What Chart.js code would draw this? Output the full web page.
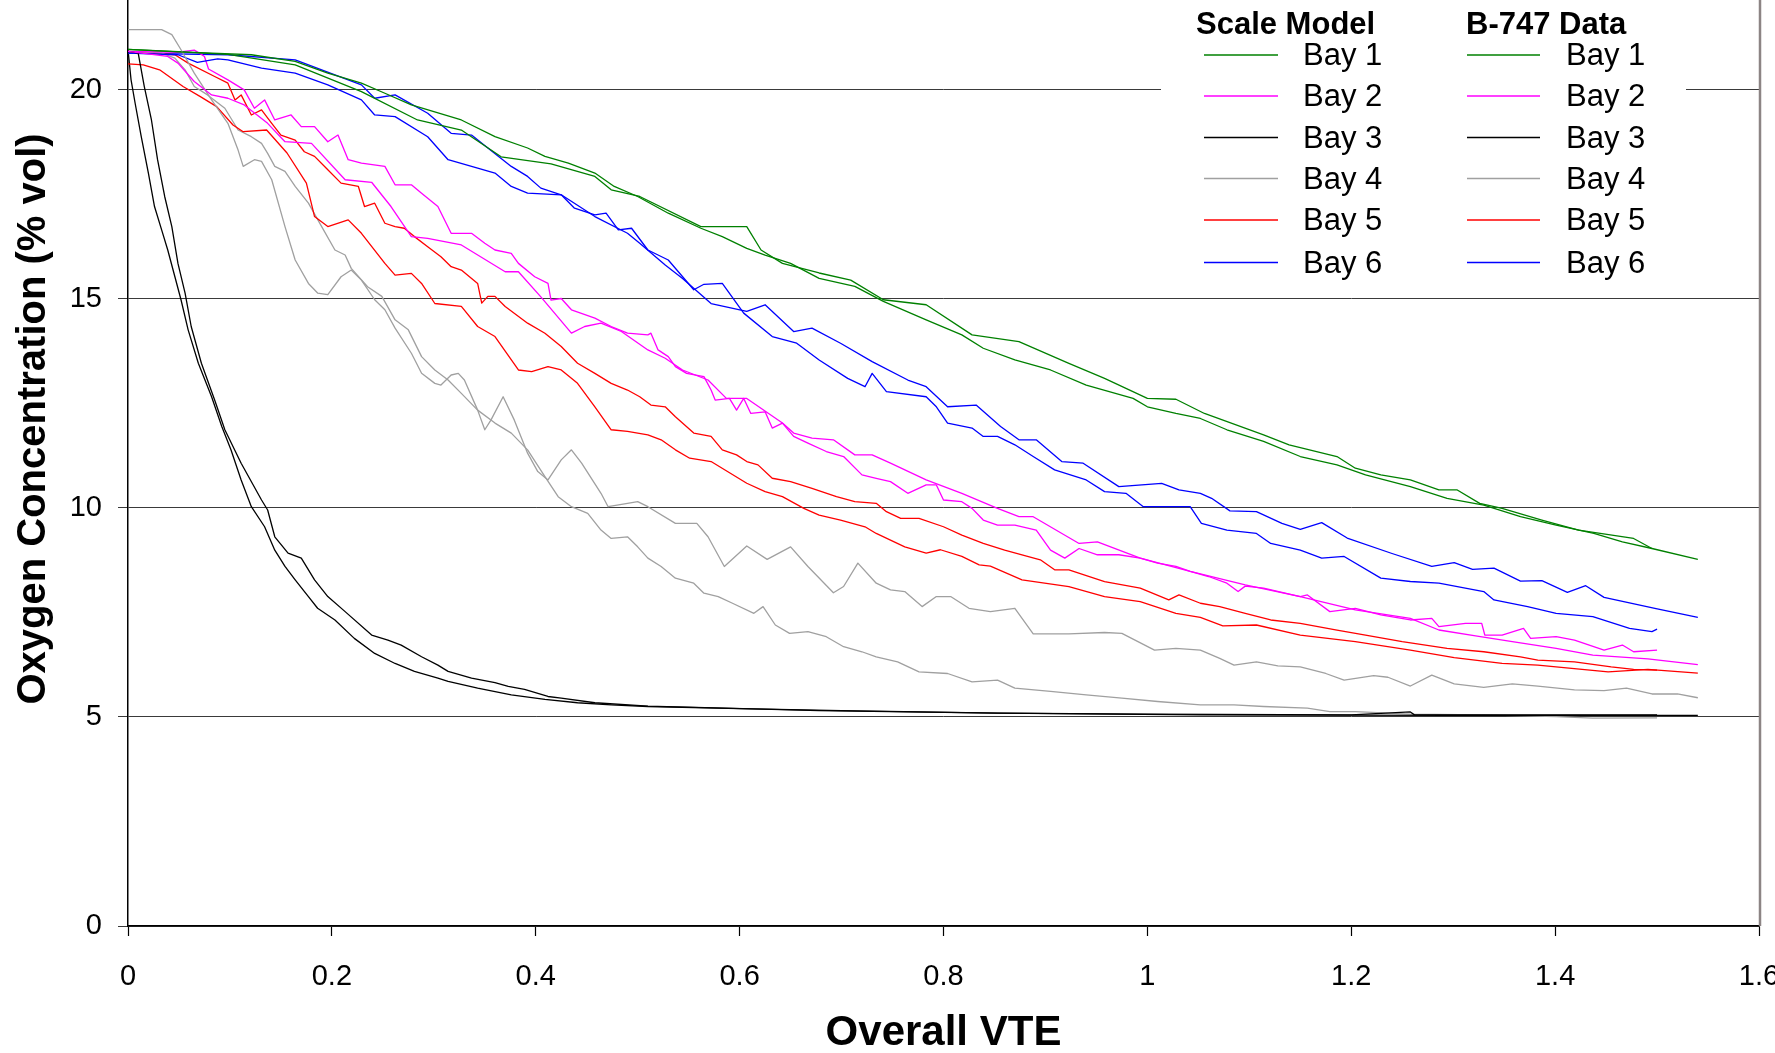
<!DOCTYPE html>
<html><head><meta charset="utf-8">
<script src="https://cdn.jsdelivr.net/npm/chart.js@4.4.1/dist/chart.umd.min.js"></script>
<style>
html,body{margin:0;padding:0;background:#fff;overflow:hidden;}
#wrap{position:relative;width:1775px;height:1053px;}
</style></head>
<body><div id="wrap"><canvas id="c" width="1775" height="1053"></canvas></div>
<script>
// ---------- tick labels ----------
const xTickValues = [0, 0.2, 0.4, 0.6, 0.8, 1.0, 1.2, 1.4, 1.6];
const xTickLabels = ["0", "0.2", "0.4", "0.6", "0.8", "1", "1.2", "1.4", "1.6"];
const yTickValues = [0, 5, 10, 15, 20];
const yTickLabels = ["0", "5", "10", "15", "20"];
const bayNames = ["Bay 1", "Bay 2", "Bay 3", "Bay 4", "Bay 5", "Bay 6"];
const groupNames = ["Scale Model", "B-747 Data"];
const xTitle = "Overall VTE";
const yTitle = "Oxygen Concentration (% vol)";

// ---------- series: [Overall VTE, O2 %vol] ----------
const modelBay1 = [[0,20.97],[0.082,20.88],[0.121,20.84],[0.164,20.68],[0.196,20.40],[0.229,20.16],[0.252,19.92],[0.278,19.64],[0.327,19.28],[0.360,18.88],[0.392,18.61],[0.409,18.41],[0.432,18.25],[0.458,18.01],[0.477,17.69],[0.500,17.45],[0.530,17.05],[0.562,16.69],[0.583,16.49],[0.607,16.21],[0.625,16.05],[0.650,15.85],[0.678,15.49],[0.713,15.30],[0.741,14.94],[0.783,14.50],[0.818,14.14],[0.839,13.82],[0.870,13.54],[0.905,13.30],[0.940,12.94],[0.986,12.62],[1.0,12.42],[1.028,12.26],[1.052,12.14],[1.078,11.87],[1.114,11.59],[1.150,11.23],[1.186,11.03],[1.214,10.79],[1.258,10.51],[1.294,10.23],[1.330,10.07],[1.366,9.79],[1.401,9.59],[1.438,9.39],[1.466,9.19],[1.495,9.03]];
const b747Bay1 = [[0,20.97],[0.098,20.85],[0.164,20.6],[0.229,19.96],[0.284,19.28],[0.327,19.04],[0.366,18.40],[0.415,18.23],[0.458,17.93],[0.474,17.61],[0.502,17.45],[0.562,16.73],[0.607,16.73],[0.621,16.17],[0.642,15.85],[0.678,15.62],[0.709,15.45],[0.741,14.98],[0.783,14.86],[0.828,14.14],[0.874,13.98],[0.923,13.46],[0.958,13.10],[1.0,12.62],[1.028,12.60],[1.056,12.26],[1.114,11.75],[1.139,11.51],[1.186,11.23],[1.204,10.95],[1.229,10.79],[1.258,10.67],[1.286,10.43],[1.304,10.43],[1.326,10.11],[1.348,9.99],[1.387,9.71],[1.423,9.47],[1.477,9.27],[1.495,9.03],[1.54,8.77]];

const modelBay2 = [[0,20.92],[0.049,20.9],[0.065,20.95],[0.072,20.85],[0.075,20.8],[0.079,20.5],[0.098,20.24],[0.114,20.0],[0.124,19.56],[0.134,19.76],[0.144,19.28],[0.160,19.4],[0.170,19.12],[0.183,19.12],[0.196,18.76],[0.206,18.92],[0.216,18.33],[0.229,18.25],[0.252,18.17],[0.262,17.73],[0.278,17.73],[0.288,17.53],[0.304,17.21],[0.317,16.57],[0.337,16.57],[0.350,16.33],[0.360,16.17],[0.376,16.09],[0.383,15.85],[0.399,15.53],[0.412,15.37],[0.415,14.97],[0.425,15.01],[0.435,14.74],[0.458,14.54],[0.474,14.34],[0.490,14.18],[0.510,14.14],[0.513,14.18],[0.520,13.78],[0.530,13.62],[0.537,13.38],[0.548,13.22],[0.565,13.14],[0.572,12.82],[0.576,12.58],[0.590,12.62],[0.597,12.34],[0.604,12.62],[0.611,12.26],[0.625,12.3],[0.632,11.91],[0.642,12.03],[0.653,11.71],[0.667,11.55],[0.685,11.35],[0.702,11.23],[0.720,10.79],[0.734,10.71],[0.748,10.63],[0.765,10.35],[0.783,10.55],[0.793,10.55],[0.800,10.19],[0.818,10.15],[0.828,9.99],[0.839,9.71],[0.853,9.59],[0.870,9.59],[0.891,9.47],[0.905,8.99],[0.919,8.8],[0.933,9.03],[0.951,8.88],[0.972,8.88],[0.993,8.8],[1.01,8.68],[1.028,8.6],[1.042,8.48],[1.060,8.36],[1.078,8.2],[1.089,8.0],[1.096,8.13],[1.114,8.08],[1.150,7.88],[1.157,7.92],[1.179,7.52],[1.204,7.6],[1.229,7.44],[1.258,7.32],[1.279,7.36],[1.286,7.16],[1.312,7.24],[1.328,7.24],[1.331,6.96],[1.348,6.96],[1.369,7.12],[1.376,6.88],[1.401,6.92],[1.419,6.84],[1.448,6.6],[1.466,6.72],[1.477,6.56],[1.5,6.6]];
const b747Bay2 = [[0,20.92],[0.039,20.8],[0.049,20.64],[0.065,20.2],[0.082,19.88],[0.098,19.8],[0.114,19.64],[0.137,19.2],[0.154,18.76],[0.180,18.72],[0.213,17.85],[0.239,17.79],[0.258,17.21],[0.278,16.49],[0.294,16.45],[0.327,16.29],[0.370,15.65],[0.383,15.65],[0.405,15.05],[0.435,14.18],[0.448,14.34],[0.464,14.42],[0.484,14.22],[0.510,13.78],[0.527,13.58],[0.544,13.3],[0.569,13.06],[0.587,12.62],[0.607,12.62],[0.642,12.03],[0.653,11.79],[0.671,11.67],[0.692,11.63],[0.713,11.27],[0.730,11.27],[0.748,11.07],[0.783,10.67],[0.818,10.35],[0.853,9.99],[0.874,9.79],[0.888,9.79],[0.933,9.15],[0.951,9.19],[0.993,8.8],[1.042,8.48],[1.096,8.16],[1.150,7.88],[1.204,7.56],[1.258,7.36],[1.286,7.08],[1.322,6.94],[1.358,6.8],[1.401,6.64],[1.437,6.48],[1.491,6.39],[1.54,6.25]];

const modelBay3 = [[0,20.96],[0.003,20.24],[0.007,19.68],[0.013,18.88],[0.020,18.01],[0.026,17.21],[0.033,16.65],[0.039,16.17],[0.046,15.53],[0.052,14.98],[0.059,14.26],[0.069,13.46],[0.082,12.66],[0.092,11.95],[0.101,11.39],[0.111,10.67],[0.121,10.03],[0.134,9.55],[0.144,8.99],[0.154,8.6],[0.164,8.28],[0.177,7.88],[0.186,7.6],[0.203,7.32],[0.222,6.88],[0.242,6.52],[0.262,6.28],[0.281,6.09],[0.304,5.93],[0.314,5.85],[0.343,5.69],[0.376,5.53],[0.409,5.42],[0.441,5.34],[0.474,5.29],[0.510,5.25],[0.6,5.2],[0.7,5.15],[0.853,5.09],[1.0,5.07],[1.2,5.05],[1.258,5.12],[1.262,5.05],[1.5,5.05]];
const b747Bay3 = [[0,20.92],[0.010,20.88],[0.016,20.08],[0.023,19.28],[0.029,18.33],[0.036,17.45],[0.043,16.73],[0.049,15.85],[0.056,15.14],[0.062,14.34],[0.072,13.46],[0.085,12.58],[0.095,11.87],[0.111,11.07],[0.131,10.19],[0.137,9.95],[0.144,9.31],[0.157,8.92],[0.170,8.8],[0.183,8.28],[0.196,7.88],[0.213,7.52],[0.239,6.96],[0.255,6.84],[0.268,6.72],[0.288,6.44],[0.304,6.24],[0.314,6.09],[0.337,5.93],[0.360,5.82],[0.373,5.73],[0.389,5.66],[0.412,5.49],[0.425,5.45],[0.458,5.34],[0.510,5.26],[0.678,5.15],[0.853,5.09],[1.052,5.05],[1.3,5.04],[1.54,5.04]];

const modelBay4 = [[0,20.92],[0.033,20.88],[0.046,20.76],[0.056,20.48],[0.065,20.08],[0.078,19.88],[0.095,19.56],[0.108,19.04],[0.121,18.88],[0.131,18.72],[0.137,18.48],[0.144,18.17],[0.154,18.05],[0.164,17.69],[0.177,17.29],[0.190,16.73],[0.203,16.17],[0.213,16.05],[0.219,15.73],[0.235,15.29],[0.249,15.06],[0.262,14.5],[0.275,14.26],[0.288,13.62],[0.301,13.3],[0.314,13.06],[0.327,12.74],[0.343,12.34],[0.360,12.03],[0.376,11.79],[0.392,11.39],[0.409,10.75],[0.422,10.27],[0.435,10.03],[0.451,9.87],[0.464,9.47],[0.474,9.27],[0.490,9.31],[0.500,9.07],[0.510,8.8],[0.523,8.6],[0.537,8.32],[0.555,8.2],[0.565,7.96],[0.579,7.88],[0.593,7.72],[0.614,7.48],[0.623,7.64],[0.635,7.2],[0.649,7.0],[0.667,7.04],[0.685,6.92],[0.702,6.68],[0.720,6.56],[0.734,6.44],[0.755,6.32],[0.776,6.08],[0.804,6.04],[0.828,5.84],[0.853,5.88],[0.870,5.69],[0.905,5.61],[0.940,5.53],[0.975,5.45],[1.01,5.37],[1.052,5.29],[1.085,5.29],[1.114,5.25],[1.157,5.21],[1.179,5.13],[1.204,5.13],[1.258,5.07],[1.330,5.05],[1.401,5.01],[1.437,4.97],[1.5,4.98]];
const b747Bay4 = [[0,21.44],[0.033,21.44],[0.043,21.32],[0.052,20.96],[0.065,20.4],[0.082,19.76],[0.098,19.2],[0.108,18.56],[0.113,18.17],[0.124,18.33],[0.131,18.29],[0.141,17.85],[0.154,16.73],[0.164,15.93],[0.177,15.37],[0.186,15.14],[0.196,15.1],[0.209,15.53],[0.219,15.69],[0.229,15.45],[0.242,14.98],[0.252,14.74],[0.262,14.3],[0.278,13.7],[0.288,13.22],[0.301,12.98],[0.307,12.94],[0.317,13.18],[0.324,13.22],[0.330,13.06],[0.343,12.34],[0.350,11.87],[0.356,12.1],[0.368,12.66],[0.379,12.1],[0.392,11.31],[0.402,10.87],[0.412,10.67],[0.425,11.15],[0.435,11.39],[0.445,11.07],[0.464,10.35],[0.471,10.03],[0.490,10.11],[0.500,10.15],[0.510,10.03],[0.537,9.63],[0.558,9.63],[0.569,9.31],[0.585,8.6],[0.607,9.09],[0.627,8.77],[0.650,9.07],[0.667,8.6],[0.692,7.97],[0.702,8.12],[0.716,8.68],[0.734,8.2],[0.748,8.04],[0.762,8.0],[0.779,7.64],[0.793,7.88],[0.807,7.88],[0.825,7.6],[0.846,7.52],[0.870,7.6],[0.888,6.99],[0.923,6.99],[0.958,7.02],[0.975,7.0],[1.007,6.6],[1.028,6.64],[1.052,6.6],[1.071,6.4],[1.085,6.24],[1.107,6.32],[1.128,6.22],[1.150,6.2],[1.175,6.04],[1.193,5.88],[1.222,5.99],[1.236,5.95],[1.258,5.74],[1.279,6.0],[1.301,5.79],[1.330,5.71],[1.358,5.79],[1.383,5.74],[1.419,5.65],[1.448,5.63],[1.470,5.69],[1.495,5.55],[1.520,5.55],[1.54,5.46]];

const modelBay5 = [[0,20.92],[0.046,20.84],[0.059,20.64],[0.085,20.32],[0.098,20.16],[0.105,19.76],[0.111,19.88],[0.121,19.4],[0.131,19.52],[0.141,19.2],[0.150,18.92],[0.164,18.8],[0.173,18.52],[0.183,18.41],[0.196,18.09],[0.209,17.77],[0.226,17.69],[0.232,17.21],[0.242,17.29],[0.252,16.81],[0.262,16.73],[0.271,16.69],[0.281,16.49],[0.294,16.25],[0.307,16.01],[0.317,15.77],[0.327,15.69],[0.343,15.37],[0.347,14.9],[0.353,15.06],[0.360,15.06],[0.370,14.82],[0.392,14.42],[0.409,14.18],[0.425,13.86],[0.441,13.46],[0.458,13.22],[0.474,12.98],[0.490,12.82],[0.502,12.66],[0.513,12.46],[0.527,12.42],[0.537,12.18],[0.555,11.79],[0.572,11.71],[0.583,11.39],[0.597,11.27],[0.607,11.11],[0.618,11.03],[0.632,10.71],[0.650,10.63],[0.671,10.47],[0.695,10.27],[0.713,10.15],[0.734,10.11],[0.744,9.91],[0.758,9.75],[0.776,9.75],[0.800,9.55],[0.818,9.35],[0.839,9.15],[0.860,8.99],[0.877,8.88],[0.895,8.76],[0.909,8.52],[0.923,8.52],[0.958,8.24],[0.993,8.08],[1.021,7.8],[1.031,7.92],[1.052,7.72],[1.071,7.64],[1.096,7.48],[1.121,7.32],[1.150,7.24],[1.186,7.08],[1.214,6.96],[1.250,6.8],[1.294,6.64],[1.330,6.56],[1.366,6.44],[1.383,6.36],[1.419,6.32],[1.455,6.2],[1.477,6.14],[1.5,6.12]];
const b747Bay5 = [[0,20.62],[0.015,20.6],[0.031,20.48],[0.054,20.08],[0.071,19.84],[0.087,19.6],[0.103,19.16],[0.113,19.0],[0.136,19.04],[0.156,18.49],[0.175,17.77],[0.183,16.97],[0.196,16.73],[0.216,16.89],[0.229,16.57],[0.252,15.85],[0.262,15.57],[0.278,15.61],[0.288,15.37],[0.301,14.89],[0.327,14.82],[0.343,14.34],[0.360,14.1],[0.383,13.3],[0.396,13.26],[0.412,13.38],[0.425,13.3],[0.441,12.98],[0.458,12.42],[0.474,11.87],[0.490,11.83],[0.510,11.75],[0.523,11.63],[0.537,11.39],[0.551,11.19],[0.572,11.11],[0.607,10.59],[0.625,10.39],[0.642,10.27],[0.663,9.99],[0.678,9.83],[0.699,9.71],[0.723,9.55],[0.734,9.39],[0.762,9.07],[0.783,8.92],[0.797,9.0],[0.818,8.84],[0.835,8.64],[0.846,8.61],[0.877,8.28],[0.923,8.12],[0.958,7.88],[0.993,7.76],[1.028,7.48],[1.052,7.38],[1.074,7.18],[1.107,7.2],[1.150,6.96],[1.204,6.8],[1.258,6.6],[1.301,6.42],[1.348,6.28],[1.383,6.24],[1.452,6.08],[1.491,6.14],[1.54,6.05]];

const modelBay6 = [[0,20.88],[0.098,20.84],[0.164,20.72],[0.229,20.12],[0.242,19.80],[0.262,19.88],[0.294,19.44],[0.317,18.96],[0.337,18.92],[0.353,18.61],[0.376,18.17],[0.392,17.93],[0.405,17.65],[0.425,17.49],[0.438,17.17],[0.458,17.01],[0.469,17.05],[0.481,16.65],[0.494,16.69],[0.510,16.17],[0.530,15.93],[0.555,15.22],[0.565,15.35],[0.583,15.37],[0.604,14.66],[0.632,14.1],[0.656,13.94],[0.678,13.54],[0.706,13.1],[0.723,12.9],[0.730,13.22],[0.744,12.78],[0.783,12.66],[0.793,12.42],[0.804,12.03],[0.828,11.91],[0.839,11.71],[0.853,11.71],[0.870,11.51],[0.888,11.23],[0.909,10.91],[0.940,10.67],[0.958,10.39],[0.979,10.35],[0.996,10.03],[1.042,10.03],[1.053,9.63],[1.078,9.47],[1.107,9.39],[1.121,9.15],[1.150,8.99],[1.171,8.8],[1.193,8.84],[1.229,8.32],[1.258,8.24],[1.286,8.2],[1.330,8.0],[1.340,7.8],[1.373,7.64],[1.401,7.48],[1.437,7.4],[1.473,7.12],[1.495,7.04],[1.5,7.1]];
const b747Bay6 = [[0,20.88],[0.049,20.84],[0.068,20.66],[0.088,20.74],[0.098,20.72],[0.131,20.52],[0.164,20.40],[0.196,20.12],[0.229,19.76],[0.242,19.40],[0.262,19.36],[0.294,18.88],[0.314,18.33],[0.343,18.13],[0.360,18.01],[0.376,17.69],[0.392,17.53],[0.425,17.49],[0.458,16.97],[0.490,16.57],[0.502,16.33],[0.527,15.81],[0.544,15.49],[0.572,14.89],[0.607,14.70],[0.625,14.86],[0.653,14.22],[0.671,14.3],[0.699,13.94],[0.730,13.50],[0.765,13.06],[0.783,12.90],[0.804,12.42],[0.832,12.46],[0.856,11.95],[0.874,11.63],[0.891,11.63],[0.916,11.11],[0.937,11.07],[0.972,10.51],[1.014,10.59],[1.031,10.43],[1.052,10.35],[1.063,10.23],[1.081,9.93],[1.107,9.91],[1.132,9.63],[1.150,9.49],[1.171,9.65],[1.196,9.28],[1.240,8.91],[1.279,8.6],[1.301,8.69],[1.319,8.53],[1.340,8.56],[1.366,8.25],[1.387,8.26],[1.412,7.98],[1.430,8.14],[1.448,7.86],[1.499,7.59],[1.54,7.38]];

const bayColors = ["#008000", "#ff00ff", "#000000", "#a0a0a0", "#ff0000", "#0000ff"];
const modelSeries = [modelBay1, modelBay2, modelBay3, modelBay4, modelBay5, modelBay6];
const b747Series = [b747Bay1, b747Bay2, b747Bay3, b747Bay4, b747Bay5, b747Bay6];

const FONT = "'Liberation Sans', Arial, Helvetica, sans-serif";

const datasets = [];
b747Series.forEach((s, i) => datasets.push({
  label: groupNames[1] + " " + bayNames[i],
  data: s.map(p => ({x: p[0], y: p[1]})),
  borderColor: bayColors[i], borderWidth: 1.3, pointRadius: 0, tension: 0, fill: false
}));
modelSeries.forEach((s, i) => datasets.push({
  label: groupNames[0] + " " + bayNames[i],
  data: s.map(p => ({x: p[0], y: p[1]})),
  borderColor: bayColors[i], borderWidth: 1.3, pointRadius: 0, tension: 0, fill: false
}));

const overlay = {
  id: 'overlay',
  afterDraw(chart) {
    const ctx = chart.ctx, ca = chart.chartArea;
    ctx.save();
    // right frame line
    ctx.strokeStyle = '#8c8484'; ctx.lineWidth = 2.5;
    ctx.beginPath(); ctx.moveTo(ca.right + 1, 0); ctx.lineTo(ca.right + 1, ca.bottom); ctx.stroke();
    // legend box
    ctx.fillStyle = '#fff';
    ctx.fillRect(1161, 0, 525, 285);
    ctx.fillStyle = '#000';
    ctx.textBaseline = 'alphabetic'; ctx.textAlign = 'left';
    ctx.font = "bold 31px " + FONT;
    ctx.fillText(groupNames[0], 1196, 34);
    ctx.fillText(groupNames[1], 1466, 34);
    const rowY = [55, 96, 137.5, 178.5, 220, 262.5];
    ctx.font = "31px " + FONT;
    bayNames.forEach((n, i) => {
      ctx.strokeStyle = bayColors[i]; ctx.lineWidth = 1.4;
      ctx.beginPath(); ctx.moveTo(1204, rowY[i]); ctx.lineTo(1278, rowY[i]); ctx.stroke();
      ctx.beginPath(); ctx.moveTo(1467, rowY[i]); ctx.lineTo(1540, rowY[i]); ctx.stroke();
      ctx.fillStyle = '#000';
      ctx.fillText(n, 1303, rowY[i] + 10);
      ctx.fillText(n, 1566, rowY[i] + 10);
    });
    // axis titles
    ctx.font = "bold 42px " + FONT;
    ctx.textAlign = 'center'; ctx.textBaseline = 'middle';
    ctx.fillText(xTitle, (ca.left + ca.right) / 2, 1033);
    ctx.translate(34, 419); ctx.rotate(-Math.PI / 2);
    ctx.font = "bold 40px " + FONT;
    ctx.fillText(yTitle, 0, 0);
    ctx.restore();
  }
};

new Chart(document.getElementById('c'), {
  type: 'line',
  data: { datasets },
  options: {
    responsive: false, animation: false, devicePixelRatio: 1,
    layout: { padding: { left: 0, right: 16, top: 0, bottom: 0 } },
    plugins: { legend: { display: false }, tooltip: { enabled: false } },
    elements: { line: { borderJoinStyle: 'round' } },
    scales: {
      x: {
        type: 'linear', min: 0, max: 1.6,
        afterBuildTicks: s => { s.ticks = xTickValues.map(v => ({value: v})); },
        ticks: { callback: (v, i) => xTickLabels[i], font: { family: FONT, size: 29 }, color: '#000', padding: 24, maxRotation: 0, autoSkip: false },
        grid: { drawOnChartArea: false, drawTicks: true, tickLength: 10, tickColor: '#000', tickWidth: 1.2 },
        border: { color: '#000', width: 1.5 },
        afterFit: s => { s.height = 127; s.paddingLeft = 0; s.paddingRight = 0; }
      },
      y: {
        type: 'linear', min: 0, max: 22.15,
        afterBuildTicks: s => { s.ticks = yTickValues.map(v => ({value: v})); },
        ticks: { callback: (v, i) => yTickLabels[i], font: { family: FONT, size: 29 }, color: '#000', padding: 16, autoSkip: false },
        grid: { color: '#3a3a3a', lineWidth: 1, drawTicks: true, tickLength: 10, tickColor: '#3a3a3a' },
        border: { color: '#000', width: 1.5 },
        afterFit: s => { s.width = 128; s.paddingTop = 0; s.paddingBottom = 0; }
      }
    }
  },
  plugins: [overlay]
});
</script>
</body></html>
